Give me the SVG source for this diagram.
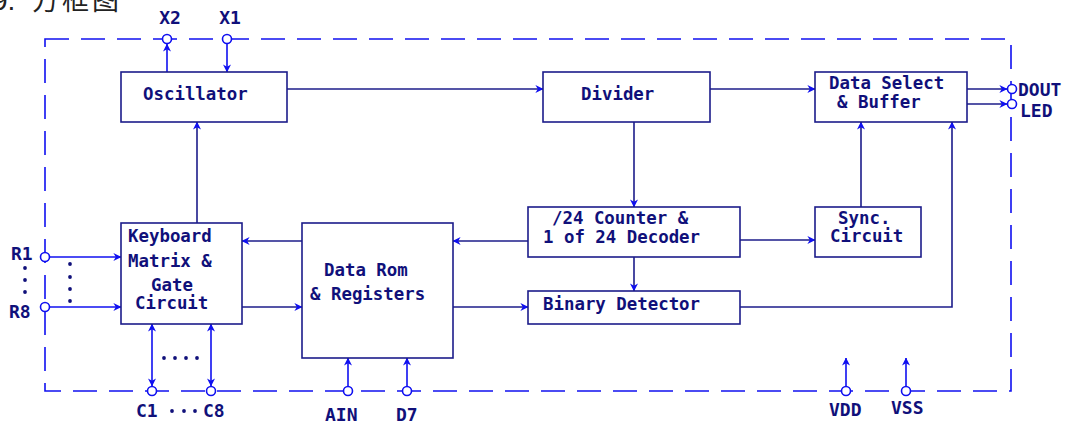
<svg xmlns="http://www.w3.org/2000/svg" width="1067" height="424" viewBox="0 0 1067 424">
<style>
.box{fill:#fff;stroke:#1c1c8a;stroke-width:1.6}
.t{font-family:"DejaVu Sans Mono","Liberation Mono",monospace;font-weight:bold;font-size:17.4px;fill:#10107a}
.p{font-family:"DejaVu Sans Mono","Liberation Mono",monospace;font-weight:bold;font-size:18px;fill:#10107a}
.ln{fill:none;stroke:#1c1c8a;stroke-width:1.6}
.bl{fill:none;stroke:#1010f0;stroke-width:1.6}
.pin{fill:#fff;stroke:#1010f0;stroke-width:1.6}
.dot{fill:#10107a}
.border{fill:none;stroke:#1010f0;stroke-width:1.6;stroke-dasharray:24 12}
</style>
<defs>
<marker id="ah" viewBox="0 0 10 10" refX="9.5" refY="5" markerWidth="8" markerHeight="8" orient="auto-start-reverse" markerUnits="userSpaceOnUse">
<path d="M0,0 L10,5 L0,10 L3,5 z" fill="#1010f0"/>
</marker>
</defs>
<rect width="1067" height="424" fill="#fff"/>
<g id="title">
<text x="-8" y="10" font-family="Liberation Sans, sans-serif" font-size="28" fill="#222">9.</text>
<text x="32" y="10" font-family="'Noto Sans CJK SC', sans-serif" font-size="27" letter-spacing="3" fill="#222">方框图</text>
</g>
<rect class="border" x="45" y="39" width="966" height="352"/>
<g id="connectors">
<line class="ln" x1="287" y1="89" x2="543" y2="89" marker-end="url(#ah)"/>
<line class="ln" x1="710" y1="89" x2="815" y2="89" marker-end="url(#ah)"/>
<line class="ln" x1="634" y1="122" x2="634" y2="207" marker-end="url(#ah)"/>
<line class="ln" x1="528" y1="241" x2="453" y2="241" marker-end="url(#ah)"/>
<line class="ln" x1="302" y1="241" x2="242" y2="241" marker-end="url(#ah)"/>
<line class="ln" x1="740" y1="240" x2="815" y2="240" marker-end="url(#ah)"/>
<line class="ln" x1="634" y1="257" x2="634" y2="291" marker-end="url(#ah)"/>
<line class="ln" x1="242" y1="307" x2="302" y2="307" marker-end="url(#ah)"/>
<line class="ln" x1="453" y1="307" x2="528" y2="307" marker-end="url(#ah)"/>
<polyline class="ln" points="740,307 952,307 952,122" marker-end="url(#ah)"/>
<line class="ln" x1="861" y1="207" x2="861" y2="122" marker-end="url(#ah)"/>
<line class="ln" x1="197" y1="223" x2="197" y2="122" marker-end="url(#ah)"/>
<line class="bl" x1="167" y1="72" x2="167" y2="44" marker-end="url(#ah)"/>
<line class="bl" x1="227" y1="44" x2="227" y2="72" marker-end="url(#ah)"/>
<line class="ln" x1="967" y1="89" x2="1007" y2="89" marker-end="url(#ah)"/>
<line class="ln" x1="967" y1="104" x2="1007" y2="104" marker-end="url(#ah)"/>
<line class="bl" x1="50" y1="257" x2="121" y2="257" marker-end="url(#ah)"/>
<line class="bl" x1="50" y1="307" x2="121" y2="307" marker-end="url(#ah)"/>
<line class="bl" x1="152" y1="324" x2="152" y2="386" marker-start="url(#ah)" marker-end="url(#ah)"/>
<line class="bl" x1="211" y1="324" x2="211" y2="386" marker-start="url(#ah)" marker-end="url(#ah)"/>
<line class="bl" x1="348" y1="386" x2="348" y2="358" marker-end="url(#ah)"/>
<line class="bl" x1="407" y1="386" x2="407" y2="358" marker-end="url(#ah)"/>
<line class="bl" x1="846" y1="386" x2="846" y2="358" marker-end="url(#ah)"/>
<line class="bl" x1="906" y1="386" x2="906" y2="358" marker-end="url(#ah)"/>
</g>
<g id="oscillator"><rect class="box" x="121" y="72" width="166" height="50"/><text class="t" x="143" y="100">Oscillator</text></g>
<g id="divider"><rect class="box" x="543" y="72" width="167" height="50"/><text class="t" x="581" y="100">Divider</text></g>
<g id="data-select"><rect class="box" x="815" y="72" width="152" height="50"/><text class="t" x="829" y="89">Data Select</text><text class="t" x="837" y="108">&amp; Buffer</text></g>
<g id="keyboard"><rect class="box" x="121" y="223" width="121" height="101"/><text class="t" x="128" y="242">Keyboard</text><text class="t" x="128" y="267">Matrix &amp;</text><text class="t" x="151" y="291">Gate</text><text class="t" x="135" y="309">Circuit</text></g>
<g id="data-rom"><rect class="box" x="302" y="223" width="151" height="135"/><text class="t" x="324" y="276">Data Rom</text><text class="t" x="310" y="300">&amp; Registers</text></g>
<g id="counter"><rect class="box" x="528" y="207" width="212" height="50"/><text class="t" x="552" y="224">/24 Counter &amp;</text><text class="t" x="543" y="243">1 of 24 Decoder</text></g>
<g id="binary"><rect class="box" x="528" y="291" width="212" height="33"/><text class="t" x="543" y="310">Binary Detector</text></g>
<g id="sync"><rect class="box" x="815" y="207" width="106" height="50"/><text class="t" x="838" y="224">Sync.</text><text class="t" x="830" y="242">Circuit</text></g>
<g id="pins">
<circle class="pin" cx="167" cy="39" r="4.5"/><text class="p" x="170" y="24" text-anchor="middle">X2</text>
<circle class="pin" cx="227" cy="39" r="4.5"/><text class="p" x="230" y="24" text-anchor="middle">X1</text>
<circle class="pin" cx="1012" cy="89" r="4.5"/><text class="p" x="1018" y="96">DOUT</text>
<circle class="pin" cx="1012" cy="104" r="4.5"/><text class="p" x="1020" y="117">LED</text>
<circle class="pin" cx="45" cy="257" r="4.5"/><text class="p" x="11" y="260">R1</text>
<circle class="pin" cx="45" cy="307" r="4.5"/><text class="p" x="9" y="318">R8</text>
<circle class="pin" cx="152" cy="391" r="4.5"/><text class="p" x="136" y="417">C1</text>
<circle class="pin" cx="211" cy="391" r="4.5"/><text class="p" x="203" y="417">C8</text>
<circle class="pin" cx="348" cy="391" r="4.5"/><text class="p" x="325" y="421">AIN</text>
<circle class="pin" cx="407" cy="391" r="4.5"/><text class="p" x="396" y="421">D7</text>
<circle class="pin" cx="846" cy="391" r="4.5"/><text class="p" x="829" y="416">VDD</text>
<circle class="pin" cx="906" cy="391" r="4.5"/><text class="p" x="891" y="414">VSS</text>
</g>
<g id="ellipses">
<circle class="dot" cx="25" cy="268" r="1.9"/><circle class="dot" cx="25" cy="280" r="1.9"/><circle class="dot" cx="25" cy="292" r="1.9"/>
<circle class="dot" cx="70" cy="264" r="1.9"/><circle class="dot" cx="70" cy="277" r="1.9"/><circle class="dot" cx="70" cy="289" r="1.9"/><circle class="dot" cx="70" cy="301" r="1.9"/>
<circle class="dot" cx="164" cy="358" r="1.9"/><circle class="dot" cx="175" cy="358" r="1.9"/><circle class="dot" cx="186" cy="358" r="1.9"/><circle class="dot" cx="197" cy="358" r="1.9"/>
<circle class="dot" cx="172" cy="411" r="1.9"/><circle class="dot" cx="184" cy="411" r="1.9"/><circle class="dot" cx="195" cy="411" r="1.9"/>
</g>
</svg>
